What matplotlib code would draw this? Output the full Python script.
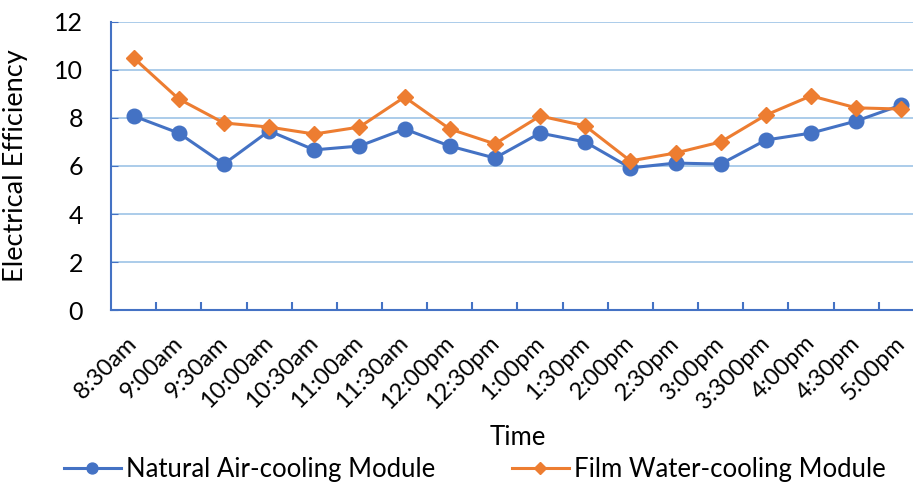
import matplotlib.pyplot as plt
from matplotlib.ticker import FixedLocator
from matplotlib.transforms import ScaledTranslation

plt.rcParams['font.family'] = ['Lato', 'DejaVu Sans']

times = ['8:30am', '9:00am', '9:30am', '10:00am', '10:30am', '11:00am', '11:30am',
         '12:00pm', '12:30pm', '1:00pm', '1:30pm', '2:00pm', '2:30pm', '3:00pm',
         '3:300pm', '4:00pm', '4:30pm', '5:00pm']
air = [8.08, 7.37, 6.08, 7.46, 6.67, 6.83, 7.54, 6.83, 6.33, 7.37, 7.0, 5.92,
       6.12, 6.08, 7.08, 7.37, 7.87, 8.54]
water = [10.5, 8.79, 7.79, 7.62, 7.33, 7.62, 8.87, 7.54, 6.92, 8.08, 7.67, 6.21,
         6.54, 7.0, 8.12, 8.92, 8.42, 8.37]

blue = '#4472C4'
orange = '#ED7D31'
grid = '#9DC3E6'

fig = plt.figure(figsize=(9.13, 4.86), dpi=100)
ax = fig.add_axes([0.1216, 0.362, 0.878, 0.593])

x = list(range(len(times)))
ax.plot(x, air, color=blue, lw=2.2, marker='o', ms=10.5, label='Natural Air-cooling Module',
        clip_on=False, zorder=3)
ax.plot(x, water, color=orange, lw=2.2, marker='D', ms=8, label='Film Water-cooling Module',
        clip_on=False, zorder=4)

ax.set_xlim(-0.5, 17.25)
ax.set_ylim(0, 12)
ax.set_yticks(range(0, 13, 2))
ax.yaxis.grid(True, color=grid, lw=1.2)
ax.set_axisbelow(True)
for s in ['top', 'right']:
    ax.spines[s].set_visible(False)
for s in ['left', 'bottom']:
    ax.spines[s].set_color(blue)
    ax.spines[s].set_linewidth(1.5)
ax.tick_params(axis='y', direction='in', length=5, color=blue, labelsize=18, pad=20)
ax.set_xticks(x)
ax.set_xticklabels(times, rotation=45, ha='right', rotation_mode='anchor')
ax.xaxis.set_minor_locator(FixedLocator([i + 0.5 for i in x]))
ax.tick_params(axis='x', which='major', length=0, labelsize=17, pad=16)
ax.tick_params(axis='x', which='minor', direction='in', length=6, width=1.5, color=blue)
shift = ScaledTranslation(-5 / 72, 0, fig.dpi_scale_trans)
for lab in ax.get_xticklabels():
    lab.set_transform(lab.get_transform() + shift)

ax.set_ylabel('Electrical Efficiency', fontsize=19.5)
ax.yaxis.set_label_coords(-0.104, 0.5)
ax.set_xlabel('Time', fontsize=18.5)
ax.xaxis.set_label_coords(0.507, -0.40)

fig.legend(loc='center', bbox_to_anchor=(0.52, 0.033), ncol=2, frameon=False,
           fontsize=18.5, handlelength=2.2, handletextpad=0.2, columnspacing=3,
           markerscale=0.75)

plt.savefig('out.png')
